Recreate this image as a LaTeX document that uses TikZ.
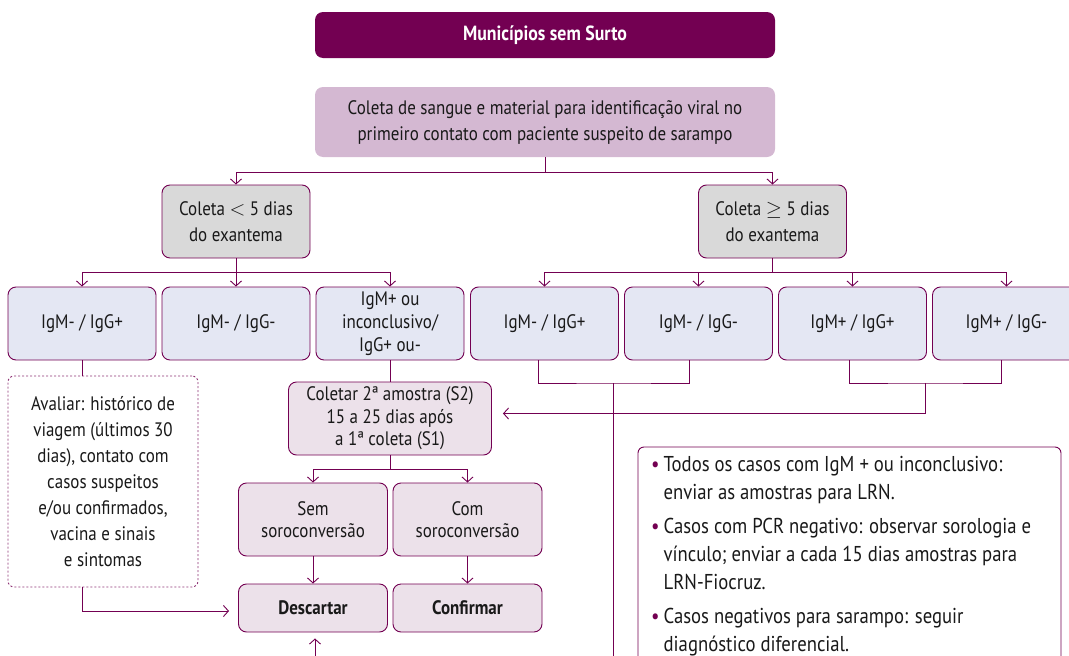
\documentclass[tikz,border=0pt]{standalone}
\usepackage{fontspec}
\setmainfont{PT Sans}[FakeStretch=0.87]
\usetikzlibrary{arrows.meta}

\definecolor{darkplum}{RGB}{115,0,82}
\definecolor{mauvefill}{RGB}{212,184,210}
\definecolor{greyfill}{RGB}{217,217,217}
\definecolor{bluefill}{RGB}{228,231,243}
\definecolor{pinkfill}{RGB}{236,225,234}

\begin{document}
\begin{tikzpicture}[x=1pt,y=-1pt,
    font=\fontsize{19.5}{26}\selectfont,
    basebox/.style={draw=darkplum, line width=0.9pt, rounded corners=8pt,
      align=center, inner sep=2pt, text=black!90},
    etapa/.style={basebox, fill=greyfill, minimum width=148pt, minimum height=73pt},
    resultado/.style={basebox, fill=bluefill, minimum width=148pt, minimum height=73pt},
    conduta/.style={basebox, fill=pinkfill, minimum width=149pt, minimum height=73pt,
      font=\fontsize{19.5}{22.5}\selectfont},
    seta/.style={draw=darkplum, line width=0.9pt, -{Straight Barb[length=5pt,width=11pt]}},
    liga/.style={draw=darkplum, line width=0.9pt}]
  \useasboundingbox (0,0) rectangle (1069,656);
  \clip (0,0) rectangle (1069,656);

  % topo
  \node[fill=darkplum, rounded corners=8pt, minimum width=460pt, minimum height=46pt,
    text=white, font=\fontsize{20.5}{24}\selectfont\bfseries] (titulo) at (545,35)
    {Municípios sem Surto};
  \node[fill=mauvefill, rounded corners=8pt, minimum width=460pt, minimum height=70pt,
    align=center, text=black!90] (coleta) at (545,122)
    {Coleta de sangue e material para identificação viral no\\
     primeiro contato com paciente suspeito de sarampo};
  \node[etapa] (menos) at (236,221.5) {Coleta $<$ 5 dias\\do exantema};
  \node[etapa] (mais) at (772.5,221.5) {Coleta $\geq$ 5 dias\\do exantema};

  % resultados
  \node[resultado] (ra1) at (82,323.5) {IgM- / IgG+};
  \node[resultado] (ra2) at (236,323.5) {IgM- / IgG-};
  \node[resultado, font=\fontsize{19.5}{23}\selectfont] (ra3) at (390,323.5)
    {IgM+ ou\\inconclusivo/\\IgG+ ou-};
  \node[resultado] (rb1) at (544.5,323.5) {IgM- / IgG+};
  \node[resultado] (rb2) at (698.5,323.5) {IgM- / IgG-};
  \node[resultado] (rb3) at (852.5,323.5) {IgM+ / IgG+};
  \node[resultado] (rb4) at (1006.5,323.5) {IgM+ / IgG-};

  % condutas
  \node[basebox, fill=white, draw=darkplum!80, dash pattern=on 2pt off 2pt,
    rounded corners=6pt, minimum width=190pt, minimum height=211pt] (caixa) at (103,481.5)
    {Avaliar: histórico de\\viagem (últimos 30\\dias), contato com\\casos suspeitos\\
     e/ou confirmados,\\vacina e sinais\\e sintomas};
  \node[conduta, minimum width=203pt] (coletar) at (390,418.5)
    {Coletar 2ª amostra (S2)\\15 a 25 dias após\\a 1ª coleta (S1)};
  \node[conduta] (sem) at (313,519.5) {Sem\\soroconversão};
  \node[conduta] (com) at (467.5,519.5) {Com\\soroconversão};
  \node[conduta, minimum height=48pt, font=\fontsize{19.5}{22}\selectfont\bfseries]
    (descartar) at (313,608) {Descartar};
  \node[conduta, minimum height=48pt, font=\fontsize{19.5}{22}\selectfont\bfseries]
    (confirmar) at (467.5,608) {Confirmar};

  % notas
  \draw[darkplum, line width=0.9pt, rounded corners=6pt, fill=white]
    (638,447) rectangle (1061,700);
  \node[anchor=north west, inner sep=0pt, align=left, text=black!90,
    font=\fontsize{21.5}{28}\selectfont] (notas) at (651,452)
    {\begin{tabular}{@{}l@{\hspace{4pt}}l@{}}
     \textcolor{darkplum}{\textbullet} & Todos os casos com IgM + ou inconclusivo:\\
      & enviar as amostras para LRN.\\[6pt]
     \textcolor{darkplum}{\textbullet} & Casos com PCR negativo: observar sorologia e\\
      & vínculo; enviar a cada 15 dias amostras para\\
      & LRN-Fiocruz.\\[6pt]
     \textcolor{darkplum}{\textbullet} & Casos negativos para sarampo: seguir\\
      & diagnóstico diferencial.
     \end{tabular}};

  % ligacoes
  \draw[liga] (coleta.south) -- ++(0,15) coordinate (nA);
  \draw[seta] (nA) -| (menos.north);
  \draw[seta] (nA) -| (mais.north);
  \draw[liga] (menos.south) -- ++(0,14) coordinate (nB);
  \draw[seta] (nB) -| (ra1.north);
  \draw[seta] (nB) -| (ra2.north);
  \draw[seta] (nB) -| (ra3.north);
  \draw[liga] (mais.south) -- ++(0,14) coordinate (nC);
  \draw[seta] (nC) -| (rb1.north);
  \draw[seta] (nC) -| (rb2.north);
  \draw[seta] (nC) -| (rb3.north);
  \draw[seta] (nC) -| (rb4.north);
  \draw[liga] (ra1.south) -- (ra1.south |- caixa.north);
  \draw[liga] (ra3.south) -- (coletar.north);
  \coordinate (hubA) at (613.5,383);
  \coordinate (hubB) at (925.5,383);
  \coordinate (fimA) at (613.5,680);
  \coordinate (fimD) at (315,680);
  \draw[liga] ([xshift=-6pt]rb1.south) |- (hubA) -| ([xshift=-9pt]rb2.south);
  \draw[liga] (hubA) -- (fimA);
  \draw[liga] ([xshift=-3pt]rb3.south) |- (hubB) -| ([xshift=-5pt]rb4.south);
  \draw[seta] (hubB) |- ([xshift=11pt,yshift=5pt]coletar.east);
  \draw[liga] (coletar.south) -- ++(0,14) coordinate (nD);
  \draw[seta] (nD) -| (sem.north);
  \draw[seta] (nD) -| (com.north);
  \draw[seta] (sem.south) -- (descartar.north);
  \draw[seta] (com.south) -- (confirmar.north);
  \draw[seta] (ra1.south |- caixa.south) |- ([xshift=-9pt,yshift=-3pt]descartar.west);
  \draw[seta] (fimD) -- ([xshift=2pt,yshift=-6pt]descartar.south);
\end{tikzpicture}
\end{document}
